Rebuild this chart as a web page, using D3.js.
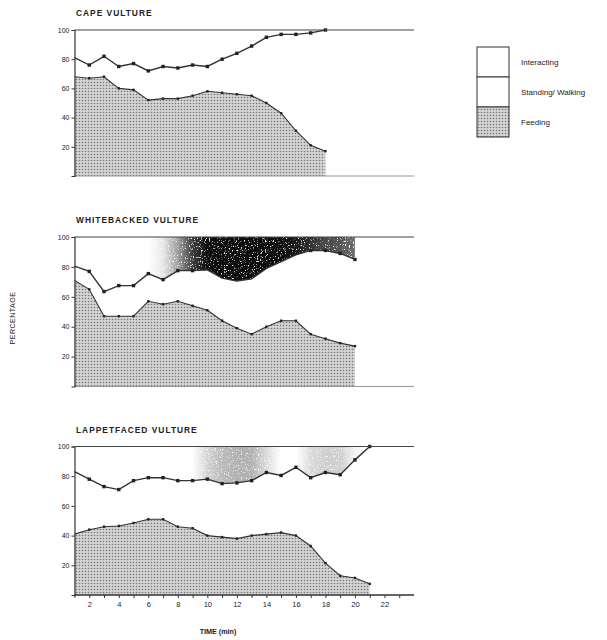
<!DOCTYPE html>
<html>
<head>
<meta charset="utf-8">
<script src="https://cdn.jsdelivr.net/npm/d3@7"></script>
<style>
  body { margin: 0; background: #fff; }
  svg { display: block; }
  text { font-family: "Liberation Sans", Arial, sans-serif; fill: #222; }
</style>
</head>
<body>
<script>
// values, one per minute starting at t = 1
var capeFeeding = [68, 67, 68, 60, 59, 52, 53, 53, 55, 58, 57, 56, 55, 50, 43, 31, 21, 17];
var capeStanding = [81, 76, 82, 75, 77, 72, 75, 74, 76, 75, 80, 84, 89, 95, 97, 97, 98, 100];
var capeInteract = [0, 0, 0, 0, 0, 0, 0, 0, 0, 0, 0, 0, 0, 0, 0, 0, 0, 0];

var wbFeeding = [71, 65, 47, 47, 47, 57, 55, 57, 54, 51, 44, 39, 35, 40, 44, 44, 35, 32, 29, 27];
var wbStanding = [80.5, 77, 63.5, 67.5, 67.5, 75.5, 71.5, 77.5, 77.5, 78, 72.5, 70.5, 72, 79, 83.5, 88, 91, 91, 89, 85];
var wbInteract = [0, 0, 0, 0, 0, 0, 0.1, 0.4, 0.8, 1, 1, 1, 1, 1, 1, 0.95, 0.85, 0.75, 0.7, 0.6];

var lfFeeding = [41, 44, 46, 46.5, 48.5, 51, 51, 46, 45, 40, 39, 38, 40, 41, 42, 40, 33, 21.5, 13, 11.5, 7.5];
var lfStanding = [83, 78, 73, 71, 77, 79, 79, 77, 77, 78, 75, 75.5, 77, 82.5, 80.5, 86, 79, 82.5, 81, 91, 100];
var lfInteract = [0, 0, 0, 0, 0, 0, 0, 0, 0, 0.18, 0.28, 0.32, 0.32, 0.15, 0, 0, 0.15, 0.2, 0.2, 0.05, 0];

var yTicks = [20, 40, 60, 80, 100];
var xTicks = d3.range(1, 24);
var xLabels = [2, 4, 6, 8, 10, 12, 14, 16, 18, 20, 22];
var legendItems = ['Interacting', 'Standing/ Walking', 'Feeding'];

var panels = [
  { title: 'CAPE VULTURE', feeding: capeFeeding, standing: capeStanding, interact: capeInteract, y0: 176, y1: 30 },
  { title: 'WHITEBACKED VULTURE', feeding: wbFeeding, standing: wbStanding, interact: wbInteract, y0: 386.5, y1: 237 },
  { title: 'LAPPETFACED VULTURE', feeding: lfFeeding, standing: lfStanding, interact: lfInteract, y0: 595, y1: 446.5, xAxis: true }
];

var svg = d3.select('body').append('svg').attr('width', 607).attr('height', 640);
var defs = svg.append('defs');

var stip = defs.append('pattern').attr('id', 'stipple')
  .attr('patternUnits', 'userSpaceOnUse').attr('width', 3).attr('height', 3);
stip.append('rect').attr('width', 3).attr('height', 3).attr('fill', '#d4d4d4');
stip.append('circle').attr('cx', 1.5).attr('cy', 1.5).attr('r', 0.8).attr('fill', '#777');

var grain = defs.append('filter').attr('id', 'grain')
  .attr('filterUnits', 'userSpaceOnUse').attr('x', 0).attr('y', 0).attr('width', 607).attr('height', 640);
grain.append('feTurbulence').attr('type', 'fractalNoise').attr('baseFrequency', 0.75)
  .attr('numOctaves', 2).attr('seed', 4).attr('result', 'n');
grain.append('feColorMatrix').attr('in', 'n').attr('type', 'matrix')
  .attr('values', '0 0 0 0 0  0 0 0 0 0  0 0 0 0 0  6 0 0 0 -1.4').attr('result', 'a');
grain.append('feComposite').attr('in', 'SourceGraphic').attr('in2', 'a').attr('operator', 'in');

var x = d3.scaleLinear().domain([1, 24]).range([74.5, 414]);

panels.forEach(function(p, i){
  var y = d3.scaleLinear().domain([0, 100]).range([p.y0, p.y1]);
  var g = svg.append('g');
  var n = p.feeding.length;

  // feeding area
  g.append('path').datum(p.feeding)
    .attr('fill', 'url(#stipple)')
    .attr('d', d3.area().x(function(d, j){ return x(j + 1); }).y0(y(0)).y1(function(d){ return y(d); }));

  // interacting shading, density varies along time
  var gid = 'dens' + i;
  var grad = defs.append('linearGradient').attr('id', gid)
    .attr('gradientUnits', 'userSpaceOnUse')
    .attr('x1', x(1)).attr('x2', x(n)).attr('y1', 0).attr('y2', 0);
  p.interact.forEach(function(v, j){
    grad.append('stop').attr('offset', j / (n - 1))
      .attr('stop-color', '#fff').attr('stop-opacity', v);
  });
  var mask = defs.append('mask').attr('id', 'm' + i).attr('maskUnits', 'userSpaceOnUse')
    .attr('x', 0).attr('y', 0).attr('width', 607).attr('height', 640);
  mask.append('rect').attr('x', x(1)).attr('y', y(100)).attr('width', x(n) - x(1)).attr('height', y(0) - y(100))
    .attr('fill', 'url(#' + gid + ')');
  if (d3.max(p.interact) > 0) {
    g.append('g').attr('mask', 'url(#m' + i + ')').append('path').datum(p.standing)
      .attr('fill', '#111').attr('filter', 'url(#grain)')
      .attr('d', d3.area().x(function(d, j){ return x(j + 1); }).y0(y(100)).y1(function(d){ return y(d); }));
  }

  var line = d3.line().x(function(d, j){ return x(j + 1); }).y(function(d){ return y(d); });
  g.append('path').datum(p.feeding).attr('fill', 'none').attr('stroke', '#333').attr('stroke-width', 1.1).attr('d', line);
  g.append('path').datum(p.standing).attr('fill', 'none').attr('stroke', '#333').attr('stroke-width', 1.4).attr('d', line);

  g.selectAll('.mf').data(p.feeding.slice(1)).join('rect')
    .attr('x', function(d, j){ return x(j + 2) - 1.2; }).attr('y', function(d){ return y(d) - 1.2; })
    .attr('width', 2.4).attr('height', 2.4).attr('fill', '#222');
  g.selectAll('.ms').data(p.standing.slice(1)).join('rect')
    .attr('x', function(d, j){ return x(j + 2) - 1.7; }).attr('y', function(d){ return y(d) - 1.7; })
    .attr('width', 3.4).attr('height', 3.4).attr('fill', '#222')
    .attr('opacity', function(d, j){ return p.interact[j + 1] > 0.85 ? 0 : 1; });

  // frame lines
  g.append('line').attr('x1', x(1)).attr('x2', x(24)).attr('y1', y(100)).attr('y2', y(100))
    .attr('stroke', '#444').attr('stroke-width', 1.2);
  g.append('line').attr('x1', x(1)).attr('x2', x(24)).attr('y1', y(0)).attr('y2', y(0))
    .attr('stroke', p.xAxis ? '#333' : '#999').attr('stroke-width', p.xAxis ? 1.4 : 1);

  var ya = g.append('g').attr('transform', 'translate(' + x(1) + ',0)')
    .call(d3.axisLeft(y).tickValues(yTicks).tickSize(3).tickPadding(2));
  ya.select('.domain').attr('stroke', '#333').attr('stroke-width', 1.2);
  ya.selectAll('.tick line').attr('stroke', '#333');
  ya.selectAll('.tick text').attr('font-size', 7).attr('fill', '#333').attr('font-family', 'Liberation Sans, Arial, sans-serif');

  g.append('text').attr('x', 76).attr('y', y(100) - 14).attr('font-size', 8.4).attr('font-weight', 'bold')
    .attr('letter-spacing', 1).text(p.title);

  if (p.xAxis) {
    var xa = g.append('g').attr('transform', 'translate(0,' + y(0) + ')')
      .call(d3.axisBottom(x).tickValues(xTicks).tickSize(3).tickPadding(4)
        .tickFormat(function(d){ return xLabels.indexOf(d) >= 0 ? d : ''; }));
    xa.select('.domain').remove();
    xa.selectAll('.tick line').attr('stroke', '#333');
    xa.selectAll('.tick text').attr('font-size', 7.5).attr('fill', '#333').attr('font-family', 'Liberation Sans, Arial, sans-serif');
  }
});

svg.append('text').attr('transform', 'translate(15,318) rotate(-90)').attr('text-anchor', 'middle')
  .attr('font-size', 7.2).attr('letter-spacing', 0.4).text('PERCENTAGE');
svg.append('text').attr('x', 218).attr('y', 634).attr('text-anchor', 'middle')
  .attr('font-size', 7.2).attr('font-weight', 'bold').text('TIME (min)');

// legend
var lg = svg.append('g');
var boxY = d3.scaleBand().domain(legendItems).range([47, 137]);
lg.selectAll('rect').data(legendItems).join('rect')
  .attr('x', 477).attr('y', function(d){ return boxY(d); })
  .attr('width', 32).attr('height', boxY.bandwidth())
  .attr('fill', function(d, j){ return j === 2 ? 'url(#stipple)' : '#fff'; })
  .attr('stroke', '#333').attr('stroke-width', 1);
lg.selectAll('text').data(legendItems).join('text')
  .attr('x', 521).attr('y', function(d){ return boxY(d) + boxY.bandwidth() / 2 + 2.5; })
  .attr('font-size', 8).attr('fill', '#222').text(function(d){ return d; });
</script>
</body>
</html>
